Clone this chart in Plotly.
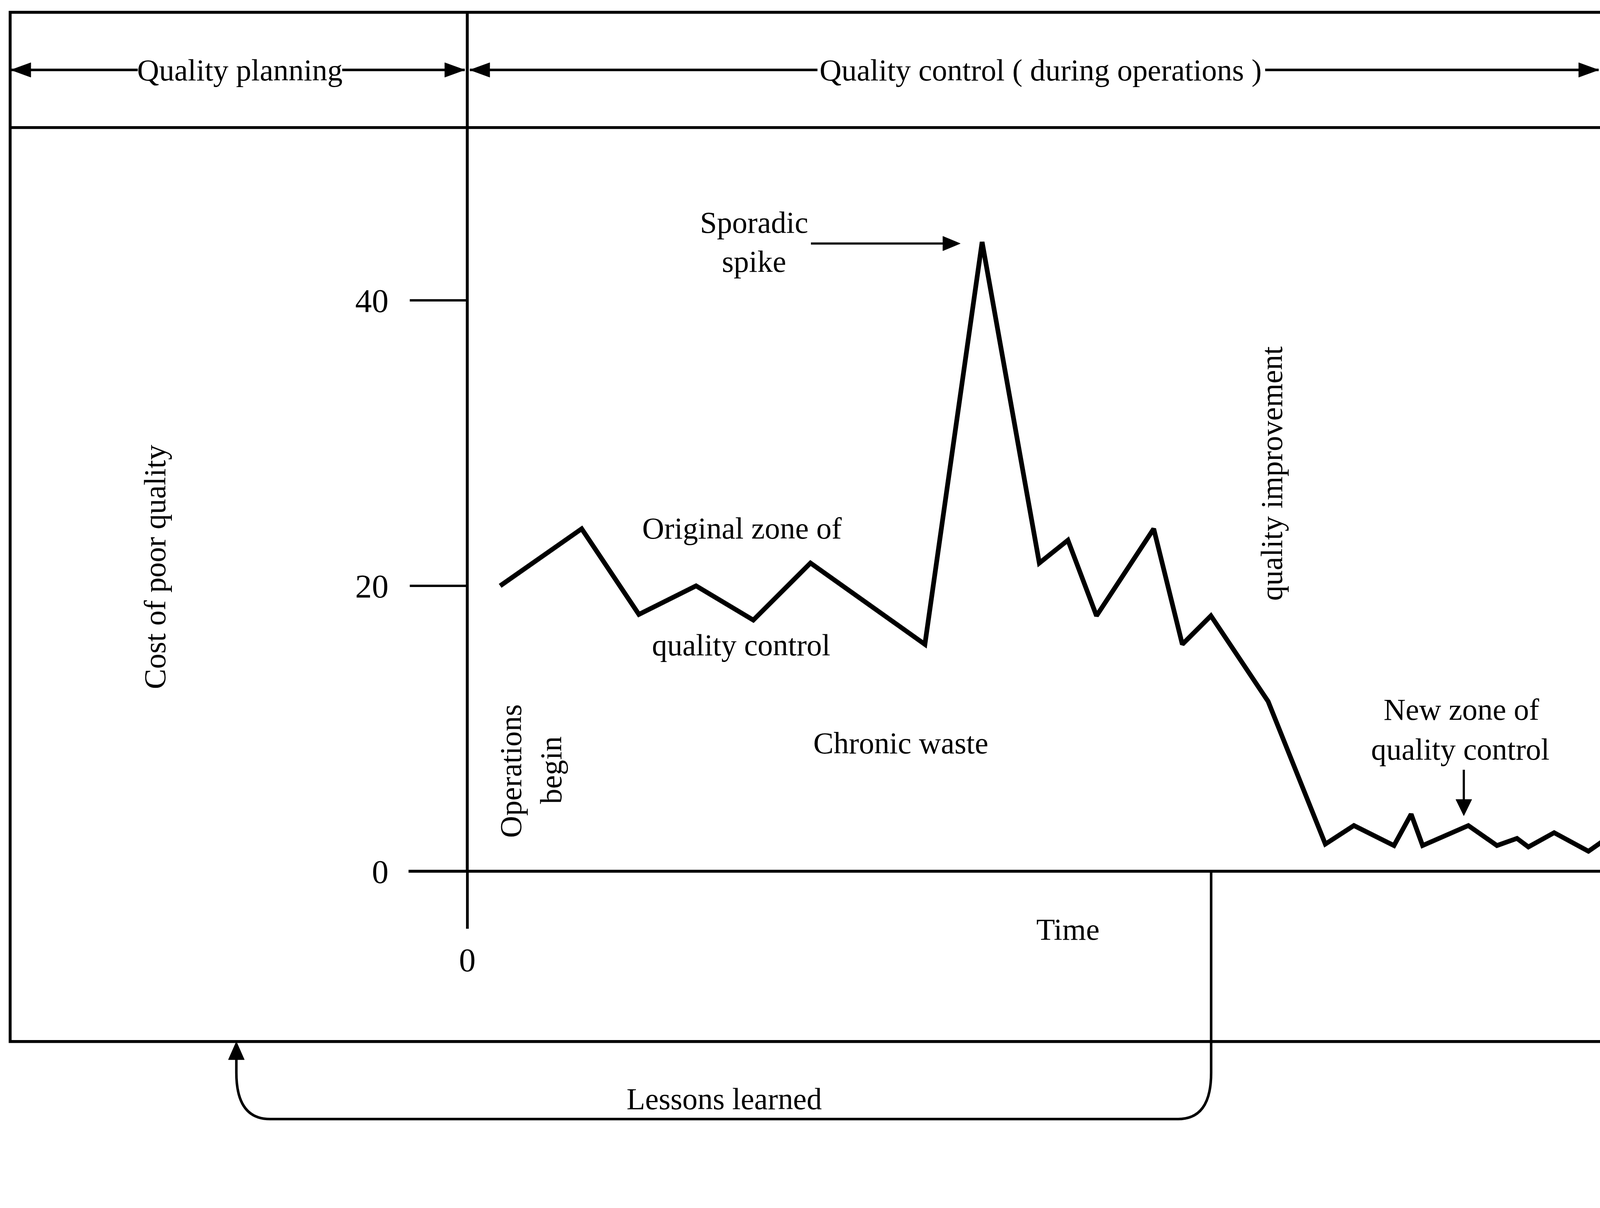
import plotly.graph_objects as go

# ---------------- data ----------------
time = [1.15, 4, 6, 8, 10, 12, 16, 18, 20, 21, 22, 24, 25, 26, 28, 30, 31,
        32.4, 33, 33.4, 35, 36, 36.7, 37.1, 38, 39.2, 39.7]
cost = [20, 24, 18, 20, 17.6, 21.6, 15.9, 44.1, 21.6, 23.2, 17.9, 24, 15.9,
        17.9, 11.9, 1.9, 3.2, 1.8, 4.0, 1.8, 3.2, 1.8, 2.3, 1.7, 2.7, 1.4, 2.1]
y_tick_values = [0, 20, 40]
y_tick_labels = ["0", "20", "40"]
x_tick_values = [0]
x_tick_labels = ["0"]

# ---------------- geometry (reference-picture pixels) ----------------
W, H = 4418, 3093
K = 4100 / 4418          # css-pixel scale of the rendered page
X0 = 1289      # pixel column of time = 0
Y0 = 2404      # pixel row of cost = 0
XU = 78.9      # pixels per time unit
YU = 39.37     # pixels per cost unit
FONT = "Liberation Serif"
TS = 84 * K    # text size
LW = 8 * K     # frame line width


def px(x):
    return x / W


def py(y):
    return 1 - y / H


fig = go.Figure()
fig.add_trace(go.Scatter(
    x=time, y=cost, mode="lines",
    line=dict(color="black", width=13 * K),
    hoverinfo="skip", showlegend=False,
))

shapes = []


def hline(x0, x1, y, w=LW):
    shapes.append(dict(type="line", xref="paper", yref="paper",
                       x0=px(x0), x1=px(x1), y0=py(y), y1=py(y),
                       line=dict(color="black", width=w)))


def vline(x, y0, y1, w=LW):
    shapes.append(dict(type="line", xref="paper", yref="paper",
                       x0=px(x), x1=px(x), y0=py(y0), y1=py(y1),
                       line=dict(color="black", width=w)))


def head(tx, ty, dx, dy, L=55, hw=20):
    bx, by = tx - dx * L, ty - dy * L
    nx, ny = -dy, dx
    pts = [(tx, ty), (bx + nx * hw, by + ny * hw), (bx - nx * hw, by - ny * hw)]
    path = "M " + " L ".join(f"{px(a):.6f},{py(b):.6f}" for a, b in pts) + " Z"
    shapes.append(dict(type="path", xref="paper", yref="paper", path=path,
                       fillcolor="black", line=dict(color="black", width=1)))


# outer frame and header
shapes.append(dict(type="rect", xref="paper", yref="paper",
                   x0=px(28), x1=px(W + 60), y0=py(34), y1=py(2874),
                   line=dict(color="black", width=LW)))
hline(28, W + 10, 352)
# divider / vertical axis line
vline(X0, 34, Y0, w=8 * K)
# horizontal axis baseline
hline(1127, W + 10, Y0, w=8 * K)

# header arrows
HY = 193
hline(28, 380, HY, w=7 * K)
head(30, HY, -1, 0)
hline(944, 1282, HY, w=7 * K)
head(1282, HY, 1, 0)
hline(1296, 2255, HY, w=7 * K)
head(1296, HY, -1, 0)
hline(3490, 4410, HY, w=7 * K)
head(4410, HY, 1, 0)

# sporadic spike arrow
hline(2237, 2640, 672, w=6 * K)
head(2649, 672, 1, 0, L=48, hw=20)

# new zone arrow
vline(4038, 2124, 2240, w=6 * K)
head(4038, 2251, 0, 1, L=45, hw=22)

# lessons learned loop
loop = (f"M {px(3341)},{py(Y0)} L {px(3341)},{py(2960)} "
        f"Q {px(3341)},{py(3088)} {px(3250)},{py(3088)} "
        f"L {px(745)},{py(3088)} "
        f"Q {px(652)},{py(3088)} {px(652)},{py(2960)} "
        f"L {px(652)},{py(2915)}")
shapes.append(dict(type="path", xref="paper", yref="paper", path=loop,
                   line=dict(color="black", width=7 * K)))
head(652, 2874, 0, -1, L=50, hw=22)

annotations = []


def label(text, x, y, angle=0, size=TS):
    annotations.append(dict(text=text, xref="paper", yref="paper",
                            x=px(x), y=py(y), xanchor="center", yanchor="middle",
                            showarrow=False, textangle=angle,
                            font=dict(family=FONT, size=size, color="black")))


label("Quality planning", 662, 194)
label("Quality control ( during operations )", 2871, 194)
label("Sporadic", 2080, 614)
label("spike", 2080, 722)
label("Original zone of", 2047, 1458)
label("quality control", 2045, 1780)
label("Chronic waste", 2485, 2051)
label("New zone of", 4031, 1958)
label("quality control", 4028, 2068)
label("quality improvement", 3508, 1307, angle=-90)
label("Operations", 1409, 2128, angle=-90)
label("begin", 1520, 2125, angle=-90)
label("Cost of poor quality", 428, 1564, angle=-90)
label("Time", 2946, 2565)
label("Lessons learned", 1998, 3033)

fig.update_layout(
    width=round(W * K), height=round(H * K),
    margin=dict(l=0, r=0, t=0, b=0, pad=0),
    paper_bgcolor="white", plot_bgcolor="white",
    showlegend=False,
    shapes=shapes,
    annotations=annotations,
    xaxis=dict(
        range=[-X0 / XU, (W - X0) / XU], domain=[0, 1],
        anchor="free", position=(H - Y0) / H,
        showgrid=False, zeroline=False, showline=False,
        tickmode="array", tickvals=x_tick_values, ticktext=x_tick_labels,
        ticks="outside", ticklen=158 * K, tickwidth=8 * K, tickcolor="black",
        tickfont=dict(family=FONT, size=92 * K, color="black"),
        ticklabelstandoff=round(6 * K),
    ),
    yaxis=dict(
        range=[-(H - Y0) / YU, Y0 / YU], domain=[0, 1],
        anchor="free", position=X0 / W,
        showgrid=False, zeroline=False, showline=False,
        tickmode="array", tickvals=y_tick_values, ticktext=y_tick_labels,
        ticks="outside", ticklen=159 * K, tickwidth=7 * K, tickcolor="black",
        tickfont=dict(family=FONT, size=92 * K, color="black"),
        ticklabelstandoff=round(40 * K),
    ),
)

fig.write_html("out.html",
               config={"displayModeBar": False},
               post_script="document.body.style.margin='0';document.body.style.overflow='hidden';")
